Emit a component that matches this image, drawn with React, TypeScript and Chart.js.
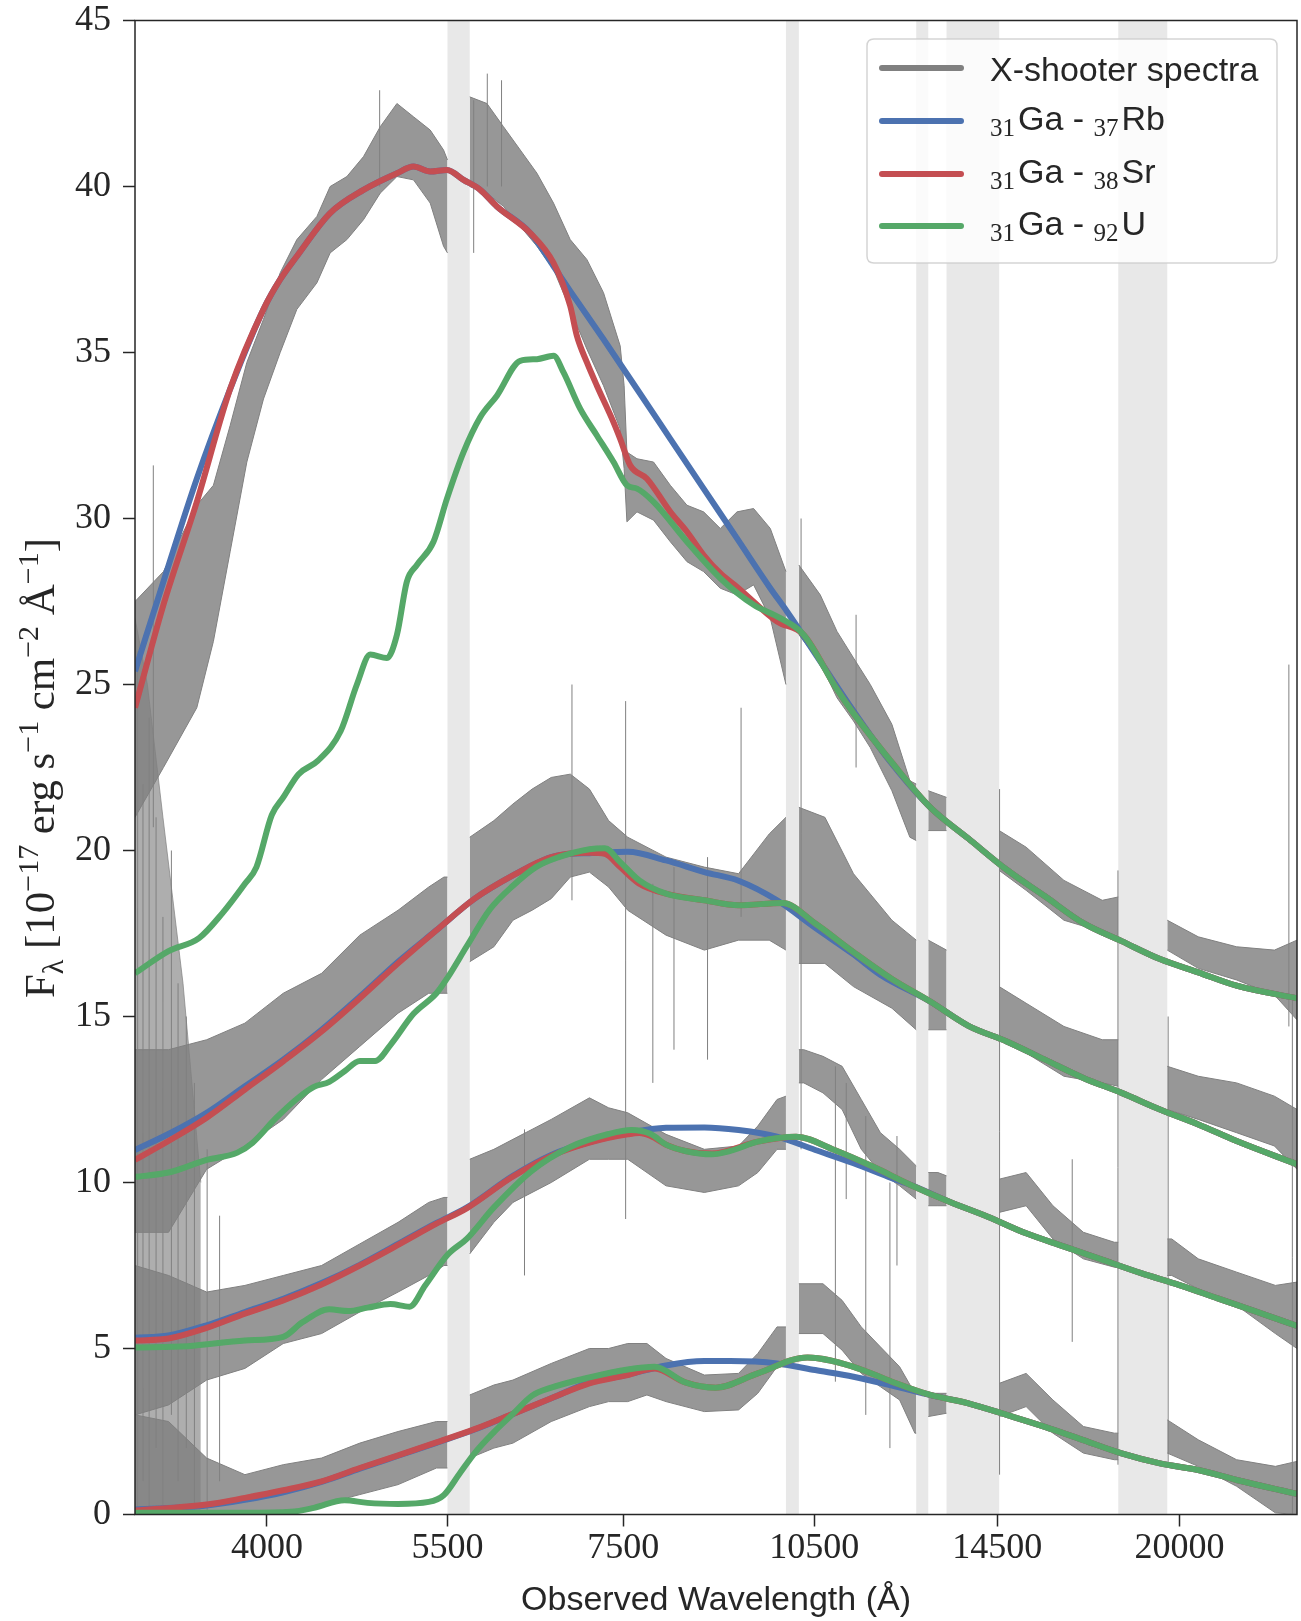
import React, { useEffect, useRef } from 'react';
import { Chart, registerables } from 'chart.js';

Chart.register(...registerables);

// ---------- axes ----------
const xMinMax = [3170, 24600];
const xTicks = [4000, 5500, 7500, 10500, 14500, 20000];
const yTicks = [0, 5, 10, 15, 20, 25, 30, 35, 40, 45];

// shaded (telluric / arm-gap) regions
const bandStart = [5500, 9990, 12570, 13260, 17950];
const bandEnd = [5720, 10220, 12840, 14550, 19570];

// ---------- X-shooter spectra (core envelope, null = gap) ----------
const spec1Wave = [3170, 3333, 3535, 3640, 3749, 3861, 3976, 4095, 4217, 4369, 4472, 4606, 4743, 4885, 5031, 5180, 5335, 5462, 5500, null, 5720, 5896, 6071, 6253, 6440, 6631, 6829, 7033, 7242, 7458, 7510, 7547, 7682, 7910, 8147, 8390, 8640, 8898, 9164, 9436, 9718, 9990, null, 10220, 10613, 10931, 11254, 11592, 12042, 12430, 12570, null, 12840, 13260, null, 14550, 15258, 16310, 17450, 17950, null, 19570, 20670, 22115, 23640, 24600];
const spec1Lo = [21, 22.5, 24.3, 26.3, 29, 31.7, 33.6, 35, 36.3, 37.1, 38, 38.4, 39, 39.8, 40.3, 40.2, 39.5, 38.2, 38.0, null, 40, 39.8, 39.4, 38.8, 38.2, 37.5, 36.3, 35.1, 34, 32.7, 31.5, 29.9, 30.2, 29.95, 29.3, 28.7, 28.4, 27.9, 27.7, 28.0, 27.0, 25.0, null, 26.5, 25.65, 24.6, 23.9, 23.1, 21.8, 20.4, 20.3, null, 20.6, 20.6, null, 19.4, 18.8, 17.9, 17.55, 17.4, null, 17.0, 16.45, 16.1, 15.65, 14.9];
const spec1Hi = [27.5, 28.4, 30.4, 31, 32.8, 34.7, 36, 37.4, 38.4, 39.1, 40, 40.3, 40.9, 41.8, 42.5, 42.1, 41.7, 41.1, 40.8, null, 42.7, 42.5, 41.8, 41.1, 40.4, 39.5, 38.4, 37.8, 36.8, 35.2, 34, 32, 31.8, 31.7, 31.0, 30.4, 30.2, 29.7, 30.2, 30.3, 29.7, 28.4, null, 28.6, 27.7, 26.6, 25.8, 25.0, 23.8, 22.1, 22.0, null, 21.8, 21.6, null, 20.6, 20.1, 19.1, 18.5, 18.6, null, 17.9, 17.4, 17.1, 17.0, 17.3];

const spec2Wave = [3170, 3363, 3597, 3848, 4117, 4405, 4712, 5041, 5321, 5466, 5500, null, 5720, 5969, 6173, 6385, 6604, 6830, 7064, 7307, 7558, 8086, 8651, 9189, 9700, 9990, null, 10220, 10700, 11254, 12042, 12570, null, 12840, 13260, null, 14550, 15258, 16310, 17450, 17950, null, 19570, 20670, 22115, 23640, 24600];
const spec2Lo = [8.5, 8.5, 10.4, 11.1, 11.9, 13.1, 14.1, 15.1, 15.7, 15.7, 15.7, null, 16.65, 17.1, 17.9, 18.2, 18.55, 19.2, 19.35, 18.9, 18.2, 17.45, 17.0, 17.3, 17.3, 17.0, null, 16.6, 16.6, 15.9, 15.25, 14.6, null, 14.6, 14.6, null, 14.3, 13.9, 13.2, 13.0, 12.9, null, 12.2, 11.9, 11.5, 11.1, 10.4];
const spec2Hi = [14, 14, 14.3, 14.8, 15.7, 16.3, 17.45, 18.2, 18.9, 19.2, 19.2, null, 20.4, 20.9, 21.4, 21.85, 22.2, 22.3, 21.85, 20.9, 20.4, 19.8, 19.5, 19.3, 20.5, 21.0, null, 21.3, 21, 19.3, 17.9, 17.3, null, 17.3, 17.0, null, 15.9, 15.4, 14.7, 14.3, 14.3, null, 13.5, 13.2, 13.0, 12.6, 12.2];

const spec3Wave = [3170, 3363, 3597, 3848, 4117, 4405, 4712, 5041, 5321, 5466, 5500, null, 5720, 5969, 6173, 6604, 7064, 7307, 7558, 8086, 8651, 9189, 9506, 9834, 9990, null, 10220, 10309, 10664, 11030, 11409, 11800, 12207, 12570, null, 12840, 13060, 13260, null, 14550, 15258, 15996, 16879, 17826, 17950, null, 19570, 19724, 20670, 22115, 23680, 24600];
const spec3Lo = [3, 3.3, 4.05, 4.4, 5.15, 5.45, 6.1, 6.7, 7.2, 7.5, 7.5, null, 7.85, 8.8, 9.4, 10.0, 10.7, 10.7, 10.7, 9.9, 9.7, 9.9, 10.3, 11.0, 11.0, null, 13.0, 13.0, 12.7, 12.2, 11.0, 10.3, 9.9, 9.5, null, 9.3, 9.3, 9.3, null, 9.1, 9.3, 8.3, 7.7, 7.45, 7.45, null, 7.2, 7.2, 6.8, 6.3, 5.45, 5.0];
const spec3Hi = [7.5, 7.2, 6.7, 6.9, 7.2, 7.5, 8.15, 8.8, 9.4, 9.55, 9.55, null, 10.7, 11.0, 11.3, 11.9, 12.55, 12.25, 12.1, 11.45, 11.0, 11.1, 11.7, 12.5, 12.6, null, 14.0, 14.0, 13.8, 13.5, 12.5, 11.5, 11.0, 10.5, null, 10.3, 10.3, 10.2, null, 10.1, 10.3, 9.3, 8.5, 8.2, 8.2, null, 8.3, 8.3, 7.7, 7.3, 6.9, 7.0];

const spec4Wave = [3170, 3363, 3597, 3848, 4117, 4405, 4712, 5041, 5394, 5500, null, 5720, 5969, 6173, 6604, 7064, 7307, 7558, 7818, 8086, 8651, 9189, 9506, 9834, 9990, null, 10220, 10664, 11030, 11409, 11800, 12207, 12540, 12570, null, 12840, 13260, null, 14550, 15258, 15996, 16879, 17826, 17950, null, 19570, 20670, 22115, 23680, 24600];
const spec4Lo = [0, 0, 0, 0, 0, 0.3, 0.6, 0.9, 1.4, 1.4, null, 1.7, 2.0, 2.15, 2.8, 3.25, 3.4, 3.4, 3.6, 3.4, 3.1, 3.15, 3.65, 4.45, 4.45, null, 5.45, 5.45, 4.95, 4.25, 3.85, 3.45, 2.45, 2.45, null, 2.95, 3.05, null, 2.95, 3.25, 2.45, 1.85, 1.65, 1.65, null, 1.85, 1.45, 0.85, 0.05, 0];
const spec4Hi = [3, 2.8, 1.7, 1.2, 1.5, 1.7, 2.15, 2.5, 2.8, 2.8, null, 3.6, 3.9, 4.05, 4.55, 5.0, 5.0, 5.15, 5.15, 4.7, 4.2, 4.25, 4.85, 5.65, 5.65, null, 6.95, 6.95, 6.45, 5.65, 5.05, 4.45, 3.65, 3.65, null, 3.65, 3.65, null, 3.95, 4.25, 3.45, 2.65, 2.45, 2.45, null, 2.85, 2.25, 1.65, 1.45, 1.6];

// very noisy blue end where all four epochs overlap
const noiseWave = [3170, 3240, 3330, 3450, 3560];
const noiseLo = [0, 0, 0, 0, 0];
const noiseHi = [27, 25, 21, 16, 10];

// isolated noise spikes / residuals
const spikeWave = [3185, 3215, 3250, 3274, 3290, 3330, 3380, 3420, 3470, 3520, 3600, 3680, 4880, 5760, 5900, 6050, 6300, 6850, 7530, 7900, 8200, 8700, 9230, 10260, 10900, 11110, 11305, 11500, 12000, 12150, 14560, 16550, 17940, 19600, 24250, 24400];
const spikeLo = [0, 1, 0, 20.7, 2, 0, 3, 1, 2, 0, 0, 1, 40, 38, 40, 40, 7.2, 18.5, 8.9, 13, 14, 13.7, 18, 11, 4, 9.5, 22.5, 3, 2, 7.5, 1.2, 5.2, 1.5, 1.5, 14.7, 0];
const spikeHi = [26, 22, 24, 31.6, 21, 18, 20, 16, 15, 13, 11, 9, 42.9, 42.6, 43.4, 43.2, 11.6, 25, 24.5, 19, 19.5, 19.8, 24.3, 30, 13.5, 13, 27.1, 12, 10, 11.4, 21.85, 10.7, 19.4, 15, 25.6, 15.5];

// ---------- models ----------
const rb1Wave = [3170, 3333, 3535, 3749, 3976, 4095, 4217, 4472, 4743, 5031, 5180, 5335, 5495, 5658, 5827, 6001, 6364, 6631, 6829, 7242, 7682, 8147, 8640, 9164, 9718, 10008, 10613, 11254, 11939, 12885, 13781, 14745, 15774, 16879, 18056, 19320, 20670, 22115, 24600];
const rb1Flux = [25.4, 28.1, 31.2, 33.9, 36.3, 37.2, 37.9, 39.2, 39.9, 40.4, 40.6, 40.45, 40.5, 40.2, 39.9, 39.4, 38.6, 37.6, 36.85, 35.4, 33.9, 32.4, 30.9, 29.4, 27.9, 27.2, 25.7, 24.2, 22.8, 21.3, 20.36, 19.42, 18.62, 17.81, 17.27, 16.73, 16.33, 15.93, 15.55];
const sr1Wave = [3170, 3333, 3535, 3749, 3976, 4095, 4217, 4472, 4743, 5031, 5180, 5335, 5495, 5658, 5827, 6001, 6364, 6631, 6829, 6910, 7033, 7158, 7371, 7458, 7591, 7818, 8147, 8390, 8640, 8898, 9189, 9834, 10306, 10931, 11254, 12042, 12885, 13781, 14745, 15774, 16879, 18056, 19320, 20670, 22115, 24600];
const sr1Flux = [24.3, 27.4, 30.5, 33.9, 36.3, 37.2, 37.9, 39.2, 39.9, 40.4, 40.6, 40.45, 40.5, 40.2, 39.9, 39.4, 38.6, 37.7, 36.4, 35.5, 34.7, 34.0, 32.9, 32.4, 31.6, 31.2, 30.2, 29.6, 28.9, 28.35, 27.9, 26.9, 26.5, 24.85, 24.13, 22.65, 21.3, 20.36, 19.42, 18.62, 17.81, 17.27, 16.73, 16.33, 15.93, 15.55];
const u1Wave = [3170, 3363, 3549, 3696, 3848, 3927, 4035, 4117, 4230, 4375, 4556, 4688, 4800, 4943, 5031, 5120, 5212, 5366, 5495, 5658, 5827, 6001, 6253, 6440, 6631, 6749, 6951, 7158, 7371, 7547, 7682, 7910, 8390, 8898, 9436, 9891, 10306, 10931, 11254, 12042, 12885, 13781, 14745, 15774, 16879, 18056, 19320, 20670, 22115, 24600];
const u1Flux = [16.3, 16.97, 17.36, 18.1, 19.0, 19.5, 21.07, 21.6, 22.3, 22.7, 23.6, 25.0, 25.9, 25.8, 26.5, 28.1, 28.6, 29.3, 30.6, 32.0, 33.05, 33.7, 34.75, 34.8, 34.9, 34.4, 33.3, 32.5, 31.7, 31.0, 30.9, 30.5, 29.3, 28.2, 27.4, 27.0, 26.5, 24.85, 24.13, 22.65, 21.3, 20.36, 19.42, 18.62, 17.81, 17.27, 16.73, 16.33, 15.93, 15.55];

const rb2Wave = [3170, 3363, 3597, 3848, 4117, 4405, 4712, 5041, 5394, 5770, 6173, 6604, 6830, 7064, 7558, 8086, 8651, 9189, 9834, 10520, 11254, 11796, 12885, 13781, 14745, 15774, 16879, 18056, 19320, 20670, 22115, 24600];
const rb2Flux = [10.98, 11.46, 12.1, 12.9, 13.7, 14.6, 15.6, 16.65, 17.6, 18.55, 19.25, 19.8, 19.9, 19.92, 19.96, 19.7, 19.35, 19.09, 18.5, 17.67, 16.87, 16.26, 15.45, 14.72, 14.25, 13.7, 13.15, 12.7, 12.2, 11.75, 11.25, 10.55];
const sr2Wave = [3170, 3363, 3597, 3848, 4117, 4405, 4712, 5041, 5394, 5770, 6173, 6604, 7064, 7258, 7458, 7713, 8086, 8651, 9189, 9930, 10520, 11254, 12042, 12885, 13781, 14745, 15774, 16879, 18056, 19320, 20670, 22115, 24600];
const sr2Flux = [10.68, 11.25, 11.95, 12.8, 13.65, 14.55, 15.55, 16.6, 17.6, 18.55, 19.25, 19.8, 19.93, 19.9, 19.5, 19.0, 18.7, 18.5, 18.35, 18.42, 17.8, 16.94, 16.13, 15.45, 14.72, 14.25, 13.7, 13.15, 12.7, 12.2, 11.75, 11.25, 10.55];
const u2Wave = [3170, 3363, 3597, 3797, 3901, 4062, 4230, 4346, 4465, 4587, 4712, 4841, 4973, 5180, 5394, 5503, 5693, 5928, 6173, 6428, 6693, 7064, 7258, 7458, 7713, 8086, 8651, 9189, 9930, 10520, 11254, 12042, 12885, 13781, 14745, 15774, 16879, 18056, 19320, 20670, 22115, 24600];
const u2Flux = [10.17, 10.3, 10.68, 10.9, 11.2, 11.93, 12.56, 12.88, 13.03, 13.35, 13.66, 13.66, 14.14, 15.08, 15.7, 16.18, 17.13, 18.23, 18.94, 19.5, 19.8, 20.04, 20.07, 19.65, 19.1, 18.7, 18.5, 18.35, 18.42, 17.8, 16.94, 16.13, 15.45, 14.72, 14.25, 13.7, 13.15, 12.7, 12.2, 11.75, 11.25, 10.55];

const rb3Wave = [3170, 3363, 3597, 3848, 4117, 4405, 4712, 5041, 5394, 5693, 6173, 6604, 7064, 7558, 8086, 8651, 9189, 9834, 10520, 11254, 12042, 12457, 13327, 14260, 15258, 16323, 17464, 18688, 19994, 21391, 22890, 24600];
const rb3Flux = [5.32, 5.39, 5.7, 6.1, 6.5, 6.97, 7.52, 8.15, 8.78, 9.25, 10.2, 10.83, 11.22, 11.49, 11.65, 11.66, 11.58, 11.38, 10.98, 10.58, 10.13, 9.92, 9.42, 8.97, 8.47, 8.07, 7.67, 7.27, 6.91, 6.51, 6.11, 5.68];
const sr3Wave = [3170, 3363, 3597, 3848, 4117, 4405, 4712, 5041, 5394, 5693, 6173, 6604, 7064, 7558, 7713, 7871, 8086, 8364, 8768, 9506, 10170, 10883, 11643, 12457, 13327, 14260, 15258, 16323, 17464, 18688, 19994, 21391, 22890, 24600];
const sr3Flux = [5.24, 5.3, 5.62, 6.05, 6.45, 6.93, 7.5, 8.12, 8.76, 9.23, 10.18, 10.8, 11.2, 11.45, 11.49, 11.4, 11.14, 10.95, 10.87, 11.23, 11.38, 10.98, 10.48, 9.92, 9.42, 8.97, 8.47, 8.07, 7.67, 7.27, 6.91, 6.51, 6.11, 5.68];
const u3Wave = [3170, 3478, 3848, 4117, 4258, 4465, 4618, 4777, 4973, 5145, 5286, 5503, 5693, 5969, 6385, 6830, 7307, 7609, 7871, 8086, 8364, 8768, 9056, 9506, 10170, 10883, 11643, 12457, 13327, 14260, 15258, 16323, 17464, 18688, 19994, 21391, 22890, 24600];
const u3Flux = [5.03, 5.07, 5.24, 5.35, 5.79, 6.18, 6.13, 6.23, 6.34, 6.26, 6.89, 7.83, 8.31, 9.25, 10.36, 11.07, 11.46, 11.58, 11.46, 11.14, 10.95, 10.85, 10.95, 11.23, 11.38, 10.98, 10.48, 9.92, 9.42, 8.97, 8.47, 8.07, 7.67, 7.27, 6.91, 6.51, 6.11, 5.68];

const rb4Wave = [3170, 3597, 3848, 4117, 4405, 4712, 5041, 5394, 5770, 6173, 6604, 7064, 7558, 8086, 8651, 9056, 9834, 10520, 11254, 12286, 12885, 13781, 14745, 15774, 16879, 18056, 19320, 20670, 22115, 24600];
const rb4Flux = [0.15, 0.27, 0.44, 0.67, 0.98, 1.38, 1.77, 2.16, 2.56, 3.03, 3.5, 3.98, 4.21, 4.49, 4.62, 4.62, 4.55, 4.35, 4.15, 3.8, 3.6, 3.35, 3.0, 2.64, 2.24, 1.84, 1.54, 1.34, 1.04, 0.62];
const sr4Wave = [3170, 3597, 3848, 4117, 4405, 4712, 5041, 5394, 5770, 6173, 6604, 7064, 7558, 7924, 8364, 8827, 9506, 10378, 11254, 12042, 12885, 13781, 14745, 15774, 16879, 18056, 19320, 20670, 22115, 24600];
const sr4Flux = [0.12, 0.3, 0.5, 0.73, 1.0, 1.4, 1.78, 2.17, 2.57, 3.03, 3.5, 3.95, 4.2, 4.4, 3.98, 3.82, 4.25, 4.73, 4.45, 4.0, 3.6, 3.35, 3.0, 2.64, 2.24, 1.84, 1.54, 1.34, 1.04, 0.62];
const u4Wave = [3170, 3848, 4173, 4346, 4587, 4777, 5041, 5321, 5466, 5616, 5770, 5969, 6173, 6385, 6604, 7064, 7558, 7924, 8364, 8827, 9506, 10378, 11254, 12042, 12885, 13781, 14745, 15774, 16879, 18056, 19320, 20670, 22115, 24600];
const u4Flux = [0.05, 0.05, 0.08, 0.2, 0.43, 0.35, 0.32, 0.38, 0.59, 1.22, 1.85, 2.48, 3.03, 3.58, 3.82, 4.13, 4.37, 4.45, 3.98, 3.82, 4.25, 4.73, 4.45, 4.0, 3.6, 3.35, 3.0, 2.64, 2.24, 1.84, 1.54, 1.34, 1.04, 0.62];

// ---------- text ----------
const xLabel = 'Observed Wavelength (Å)';
const legendRows = [
  [['X-shooter spectra', 'm']],
  [['31', 's'], ['Ga - ', 'm'], ['37', 's'], ['Rb', 'm']],
  [['31', 's'], ['Ga - ', 'm'], ['38', 's'], ['Sr', 'm']],
  [['31', 's'], ['Ga - ', 'm'], ['92', 's'], ['U', 'm']],
];
const yLabelParts: [string, string][] = [
  ['F', 'm'], ['λ', 'sub'], [' [10', 'm'], ['−17', 'sup'], [' erg s', 'm'], ['−1', 'sup'],
  [' cm', 'm'], ['−2', 'sup'], [' Å', 'm'], ['−1', 'sup'], [']', 'm'],
];

const SANS = '"Liberation Sans", Arial, sans-serif';
const SERIF = '"Liberation Serif", "Times New Roman", serif';
const INK = '#262626';
const GREY = '#808080';
const BLUE = '#4C72B0';
const RED = '#C44E52';
const GREEN = '#55A868';

function pts(w: number[], f: number[]) {
  return w.map((x, i) => ({ x, y: f[i] }));
}

function buildDatasets() {
  const ds: any[] = [];
  // overlapping blue-end noise
  const nLo = ds.length;
  ds.push({
    data: pts(noiseWave, noiseLo), borderColor: 'rgba(0,0,0,0)', borderWidth: 0, pointRadius: 0,
    fill: false, order: 11, clip: 0,
  });
  ds.push({
    data: pts(noiseWave, noiseHi), borderColor: 'rgba(128,128,128,0.7)', borderWidth: 1, pointRadius: 0,
    fill: { target: nLo }, backgroundColor: 'rgba(120,120,120,0.6)', order: 11, clip: 0,
  });
  const specs = [
    [spec1Wave, spec1Lo, spec1Hi],
    [spec2Wave, spec2Lo, spec2Hi],
    [spec3Wave, spec3Lo, spec3Hi],
    [spec4Wave, spec4Lo, spec4Hi],
  ] as any[];
  for (const [w, lo, hi] of specs) {
    const segs: number[][] = [];
    let cur: number[] = [];
    w.forEach((v: number | null, i: number) => {
      if (v === null) {
        if (cur.length) segs.push(cur);
        cur = [];
      } else cur.push(i);
    });
    if (cur.length) segs.push(cur);
    for (const s of segs) {
      const iLo = ds.length;
      ds.push({
        data: s.map((i) => ({ x: w[i], y: lo[i] })),
        borderColor: GREY, borderWidth: 1, pointRadius: 0, fill: false,
        tension: 0, order: 10, clip: 0,
      });
      ds.push({
        data: s.map((i) => ({ x: w[i], y: hi[i] })),
        borderColor: GREY, borderWidth: 1, pointRadius: 0,
        fill: { target: iLo }, backgroundColor: 'rgba(128,128,128,0.82)',
        tension: 0, order: 10, clip: 0,
      });
    }
  }
  const spikeData: any[] = [];
  spikeWave.forEach((x, i) => {
    spikeData.push({ x, y: spikeLo[i] }, { x, y: spikeHi[i] }, { x, y: null });
  });
  ds.push({
    data: spikeData, borderColor: GREY, borderWidth: 1, pointRadius: 0,
    spanGaps: false, fill: false, order: 9, clip: 0,
  });
  const model = (w: number[], f: number[], color: string, order: number) => ({
    data: pts(w, f), borderColor: color, borderWidth: 6, pointRadius: 0, fill: false,
    cubicInterpolationMode: 'monotone', borderJoinStyle: 'round', order, clip: 0,
  });
  ds.push(model(rb1Wave, rb1Flux, BLUE, 3), model(sr1Wave, sr1Flux, RED, 2), model(u1Wave, u1Flux, GREEN, 1));
  ds.push(model(rb2Wave, rb2Flux, BLUE, 3), model(sr2Wave, sr2Flux, RED, 2), model(u2Wave, u2Flux, GREEN, 1));
  ds.push(model(rb3Wave, rb3Flux, BLUE, 3), model(sr3Wave, sr3Flux, RED, 2), model(u3Wave, u3Flux, GREEN, 1));
  ds.push(model(rb4Wave, rb4Flux, BLUE, 3), model(sr4Wave, sr4Flux, RED, 2), model(u4Wave, u4Flux, GREEN, 1));
  return ds;
}

const decorPlugin = {
  id: 'decor',
  beforeDatasetsDraw(chart: any) {
    const { ctx, chartArea } = chart;
    const x = chart.scales.x;
    ctx.save();
    ctx.fillStyle = '#e8e8e8';
    bandStart.forEach((s, i) => {
      const a = x.getPixelForValue(s);
      const b = x.getPixelForValue(bandEnd[i]);
      ctx.fillRect(a, chartArea.top, b - a, chartArea.bottom - chartArea.top);
    });
    ctx.restore();
  },
  afterDatasetsDraw(chart: any) {
    const { ctx, chartArea } = chart;
    ctx.save();
    ctx.strokeStyle = INK;
    ctx.lineWidth = 1.5;
    ctx.strokeRect(chartArea.left, chartArea.top, chartArea.right - chartArea.left, chartArea.bottom - chartArea.top);
    ctx.restore();
  },
  afterDraw(chart: any) {
    const { ctx, chartArea } = chart;
    ctx.save();
    // x label
    ctx.fillStyle = INK;
    ctx.font = `34px ${SANS}`;
    ctx.textAlign = 'center';
    ctx.textBaseline = 'alphabetic';
    ctx.fillText(xLabel, (chartArea.left + chartArea.right) / 2, 1610);

    // y label (rotated, with sub/superscripts)
    const base = 34;
    const fontFor = (kind: string, size: number) =>
      kind === 'm' ? `${size}px ${SERIF}` : `${size * 0.7}px ${SERIF}`;
    ctx.textAlign = 'left';
    let total = 0;
    for (const [t, k] of yLabelParts) {
      ctx.font = fontFor(k, base);
      total += ctx.measureText(t).width;
    }
    const size = base * (460 / total);
    ctx.translate(54, 768);
    ctx.rotate(-Math.PI / 2);
    let cx = -460 / 2;
    for (const [t, k] of yLabelParts) {
      ctx.font = fontFor(k, size);
      const dy = k === 'sub' ? size * 0.2 : k === 'sup' ? -size * 0.38 : 0;
      ctx.fillText(t, cx, dy);
      cx += ctx.measureText(t).width;
    }
    ctx.restore();

    // legend
    ctx.save();
    const x0 = 867, y0 = 39, x1 = 1277, y1 = 263, r = 7;
    ctx.beginPath();
    ctx.moveTo(x0 + r, y0);
    ctx.lineTo(x1 - r, y0);
    ctx.quadraticCurveTo(x1, y0, x1, y0 + r);
    ctx.lineTo(x1, y1 - r);
    ctx.quadraticCurveTo(x1, y1, x1 - r, y1);
    ctx.lineTo(x0 + r, y1);
    ctx.quadraticCurveTo(x0, y1, x0, y1 - r);
    ctx.lineTo(x0, y0 + r);
    ctx.quadraticCurveTo(x0, y0, x0 + r, y0);
    ctx.closePath();
    ctx.fillStyle = 'rgba(255,255,255,0.8)';
    ctx.fill();
    ctx.strokeStyle = 'rgba(204,204,204,0.85)';
    ctx.lineWidth = 1.5;
    ctx.stroke();
    const colors = [GREY, BLUE, RED, GREEN];
    const lineY = [68, 121, 174, 226];
    legendRows.forEach((row, i) => {
      ctx.strokeStyle = colors[i];
      ctx.lineWidth = 6;
      ctx.lineCap = 'round';
      ctx.beginPath();
      ctx.moveTo(882, lineY[i]);
      ctx.lineTo(961, lineY[i]);
      ctx.stroke();
      const baseY = i === 0 ? 81 : lineY[i] + 9;
      let tx = 990;
      ctx.fillStyle = INK;
      ctx.textBaseline = 'alphabetic';
      ctx.textAlign = 'left';
      row.forEach(([t, k]) => {
        if (k === 'm') {
          ctx.font = `34px ${SANS}`;
          ctx.fillText(t, tx, baseY);
          tx += ctx.measureText(t).width;
        } else {
          ctx.font = `25px ${SERIF}`;
          ctx.fillText(t, tx, baseY + 6);
          tx += ctx.measureText(t).width + 3;
        }
      });
    });
    ctx.restore();
  },
};

export default function App() {
  const ref = useRef<HTMLCanvasElement>(null);
  useEffect(() => {
    const canvas = ref.current as HTMLCanvasElement;
    const tickFont = { family: SERIF, size: 36, lineHeight: 1 };
    const chart = new Chart(canvas, {
      type: 'line',
      data: { datasets: buildDatasets() },
      options: {
        animation: false,
        responsive: false,
        devicePixelRatio: 1,
        layout: { padding: { top: 20.5, right: 4, left: 0, bottom: 0 } },
        plugins: { legend: { display: false }, tooltip: { enabled: false } },
        scales: {
          x: {
            type: 'logarithmic',
            min: xMinMax[0],
            max: xMinMax[1],
            afterBuildTicks: (s: any) => { s.ticks = xTicks.map((v) => ({ value: v })); },
            afterFit: (s: any) => { s.height = 106.5; s.paddingLeft = 0; s.paddingRight = 0; },
            ticks: {
              callback: (v: any) => String(v), font: tickFont, color: INK,
              padding: 4, maxRotation: 0, autoSkip: false,
            },
            grid: { drawOnChartArea: false, drawTicks: true, tickLength: 12, tickWidth: 1.5, tickColor: INK },
            border: { display: false },
          },
          y: {
            type: 'linear',
            min: 0,
            max: 45,
            afterBuildTicks: (s: any) => { s.ticks = yTicks.map((v) => ({ value: v })); },
            afterFit: (s: any) => { s.width = 135; s.paddingTop = 0; s.paddingBottom = 0; },
            ticks: { callback: (v: any) => String(v), font: tickFont, color: INK, padding: 12 },
            grid: { drawOnChartArea: false, drawTicks: true, tickLength: 12, tickWidth: 1.5, tickColor: INK },
            border: { display: false },
          },
        },
      } as any,
      plugins: [decorPlugin],
    });
    return () => chart.destroy();
  }, []);
  return (
    <div style={{ position: 'absolute', left: 0, top: 0, width: 1301, height: 1621, background: '#fff' }}>
      <canvas ref={ref} width={1301} height={1621} style={{ width: 1301, height: 1621, display: 'block' }} />
    </div>
  );
}
